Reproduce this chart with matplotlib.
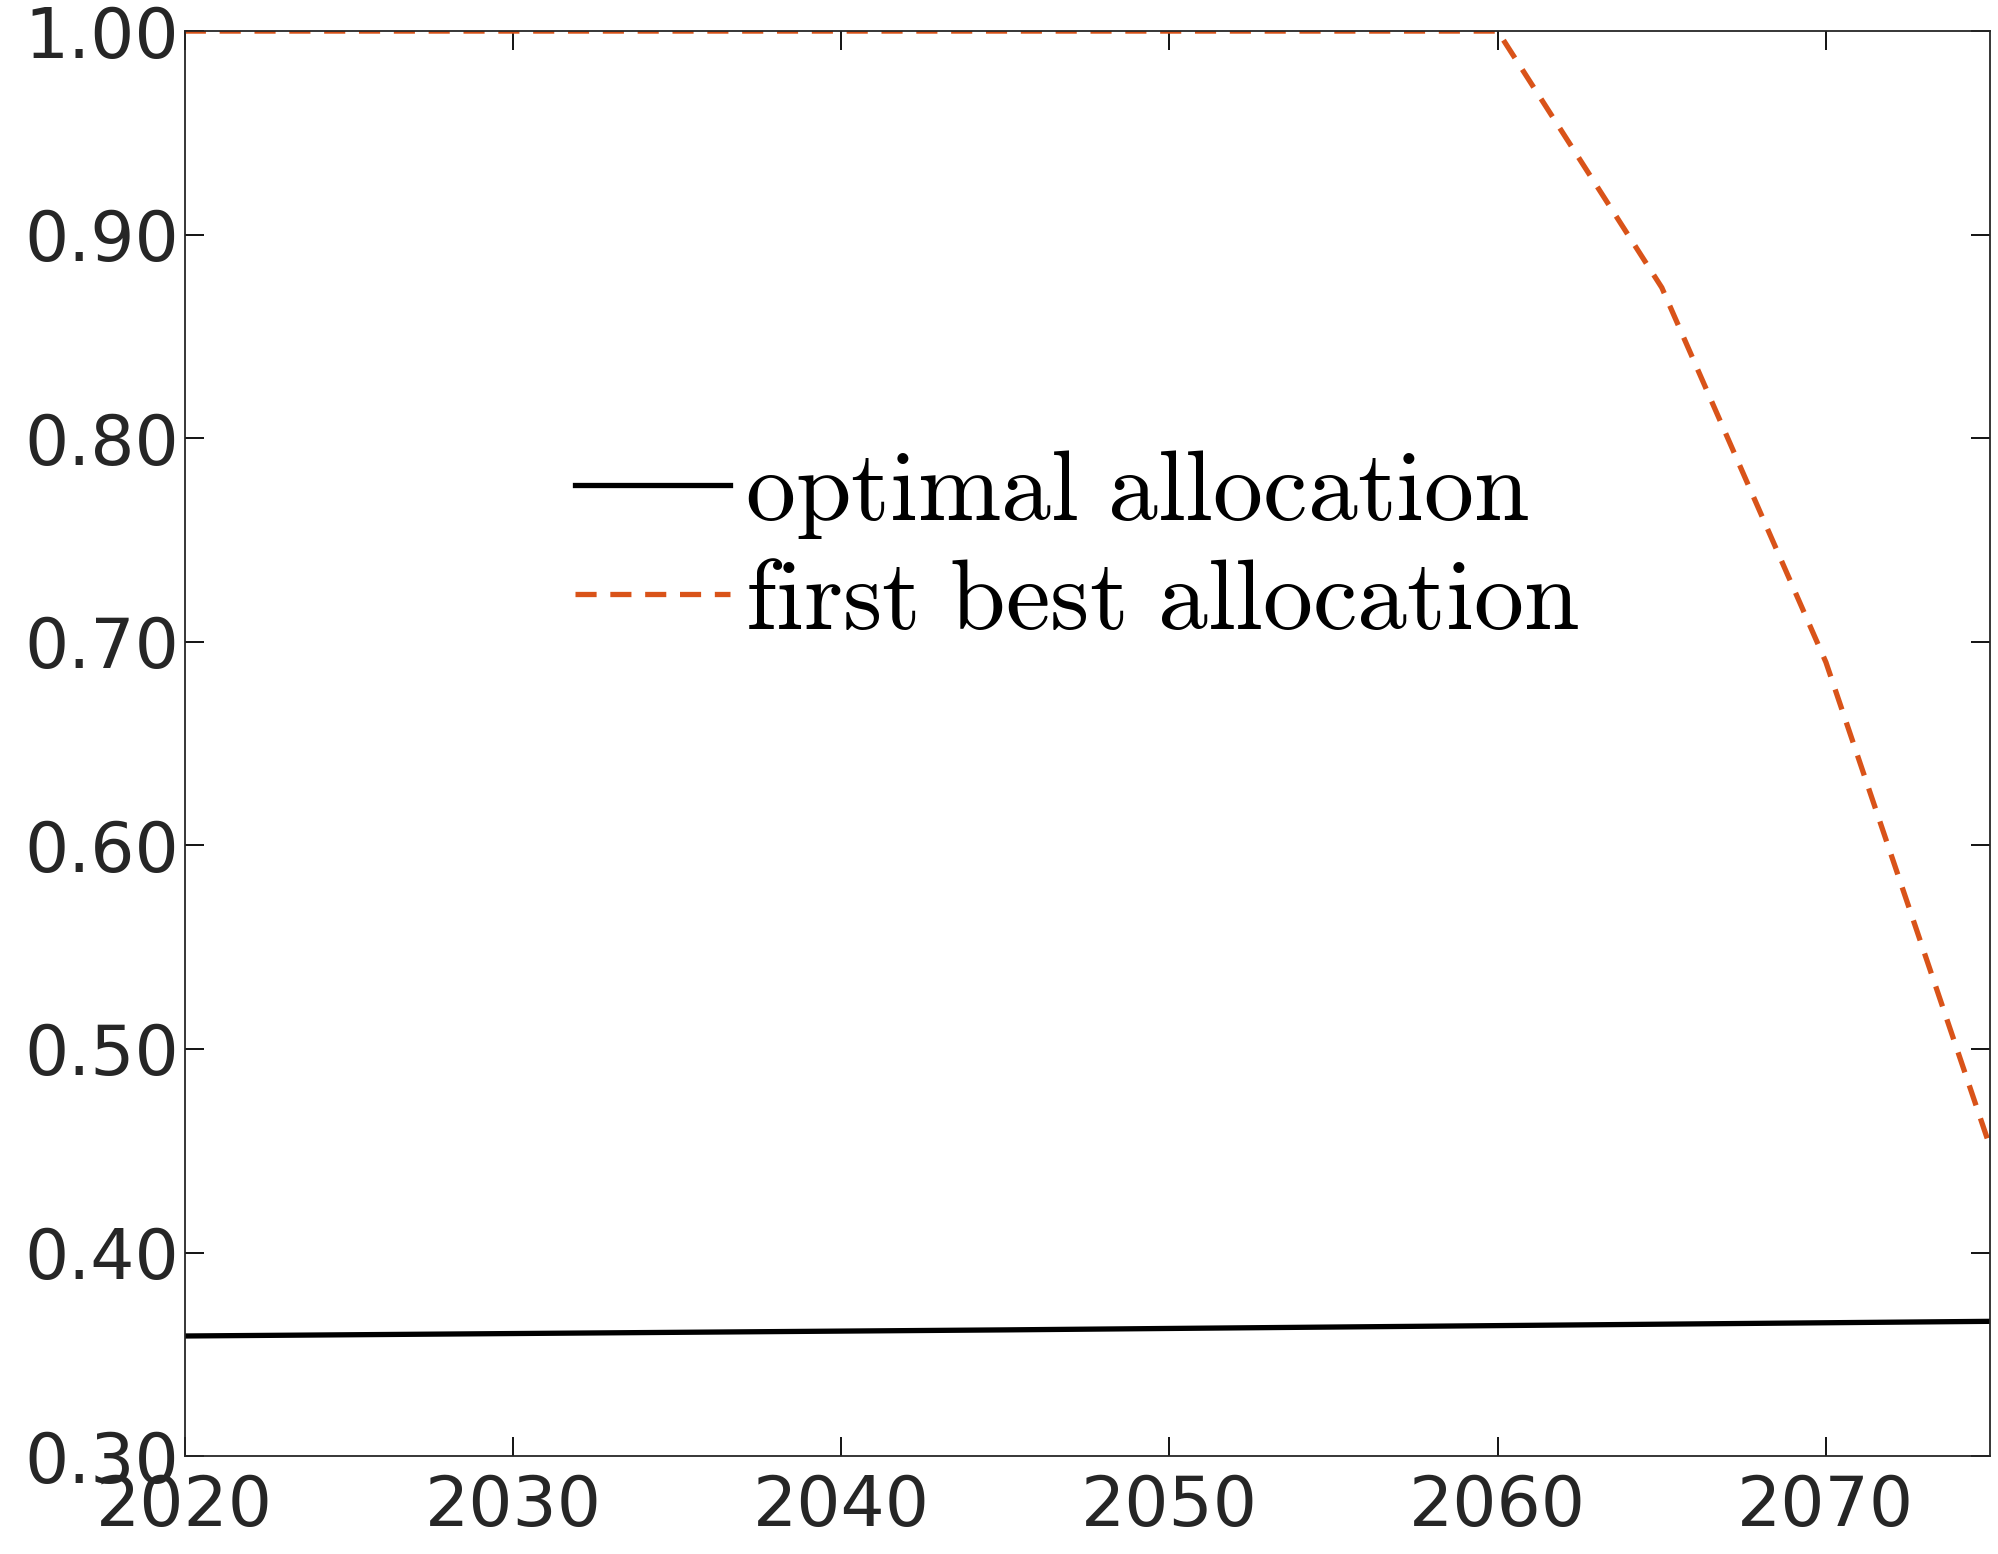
import matplotlib
matplotlib.use("Agg")
import matplotlib.pyplot as plt

plt.rcParams["mathtext.fontset"] = "cm"

years = [2020, 2025, 2030, 2035, 2040, 2045, 2050, 2055, 2060, 2065, 2070, 2075]
optimal = [0.359, 0.3596, 0.3602, 0.3608, 0.3614, 0.362, 0.3627, 0.3634, 0.3641, 0.3648, 0.3655, 0.3662]
first_best = [1.0, 1.0, 1.0, 1.0, 1.0, 1.0, 1.0, 1.0, 1.0, 0.874, 0.69, 0.452]

fig = plt.figure(figsize=(19.98, 15.54), dpi=100)
ax = fig.add_axes([0.0925, 0.063, 0.9035, 0.917])
ax.plot(years, optimal, color="black", lw=3.8, label=r"$\mathrm{optimal\ allocation}$")
ax.plot(years, first_best, color="#D95319", lw=3.8, ls=(0, (4, 2.6)),
        label=r"$\mathrm{first\ best\ allocation}$")
ax.set_xlim(2020, 2075)
ax.set_ylim(0.3, 1.0)
ax.set_xticks([2020, 2030, 2040, 2050, 2060, 2070])
ax.set_yticks([0.3, 0.4, 0.5, 0.6, 0.7, 0.8, 0.9, 1.0])
ax.set_yticklabels([f"{v:.2f}" for v in ax.get_yticks()])
ax.tick_params(direction="in", length=14, width=1.3, top=True, right=True,
               labelsize=50, labelcolor="#262626")
ax.tick_params(axis="x", pad=12)
ax.tick_params(axis="y", pad=4)
for s in ax.spines.values():
    s.set_linewidth(1.3)
    s.set_color("#262626")
ax.legend(loc="upper left", bbox_to_anchor=(0.216, 0.71), frameon=False,
          fontsize=72, handlelength=1.55, handletextpad=0.15, labelspacing=0.12,
          borderpad=0, borderaxespad=0)
fig.savefig("out.png", dpi=100)
